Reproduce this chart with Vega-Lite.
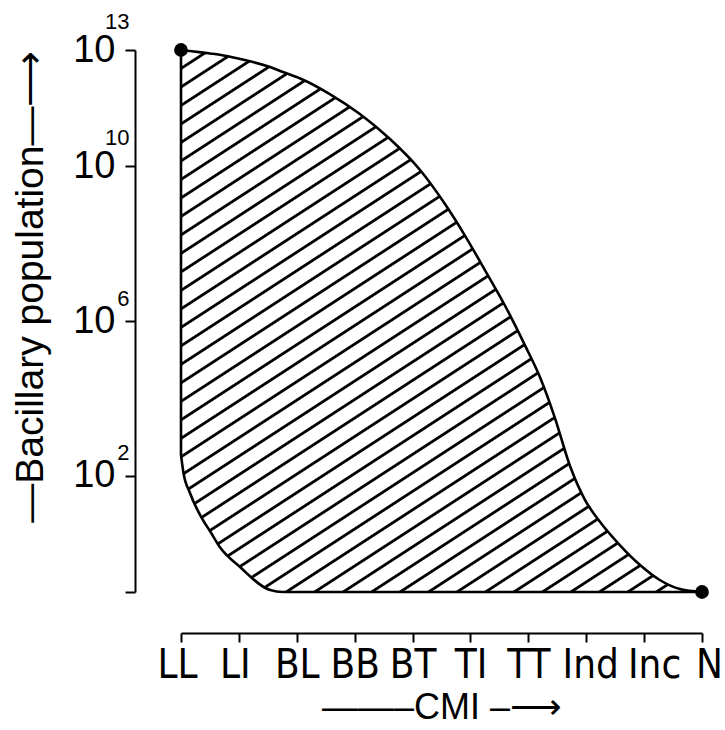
{
  "$schema": "https://vega.github.io/schema/vega-lite/v6.json",
  "width": 521,
  "height": 542,
  "autosize": "none",
  "padding": {"left": 181, "top": 50, "right": 22, "bottom": 138},
  "background": "white",
  "config": {
    "view": {"stroke": null},
    "axis": {"domainColor": "#000", "tickColor": "#000", "labelColor": "#000", "titleColor": "#000", "grid": false, "domainWidth": 2, "tickWidth": 2, "titleFontWeight": "normal"}
  },
  "resolve": {"axis": {"y": "independent"}},
  "encoding": {
    "x": {
      "field": "x", "type": "quantitative",
      "scale": {"domain": [0, 9], "nice": false, "zero": false},
      "axis": {
        "orient": "bottom", "offset": 41, "values": [0,1,2,3,4,5,6,7,8,9],
        "labelExpr": "['LL','LI','BL','BB','BT','TI','TT','Ind','Inc','N'][datum.value]",
        "labelOffset": {"condition": [{"test": "datum.value == 8", "value": 10}, {"test": "datum.value == 7", "value": 4}, {"test": "datum.value == 9", "value": 7}, {"test": "datum.value <= 1", "value": -4}], "value": 0},
        "tickSize": 9, "labelPadding": 3, "labelFontSize": 40,
        "labelFont": "Liberation Sans Narrow, DejaVu Sans Condensed, Liberation Sans",
        "labelOverlap": false, "labelFlush": false, "labelBound": false,
        "title": "——–CMI –⟶", "titleFont": "Liberation Sans", "titleFontSize": 36, "titlePadding": 5
      }
    }
  },
  "layer": [
    {
      "data": {"values": [
        {"x": 0, "hi": 1e13, "lo": 347},
        {"x": 0.04, "hi": 9.8e12, "lo": 126},
        {"x": 0.155, "hi": 9.4e12, "lo": 36},
        {"x": 0.38, "hi": 8.57e12, "lo": 7.2},
        {"x": 0.5, "hi": 8.13e12, "lo": 3.75},
        {"x": 0.67, "hi": 7.52e12, "lo": 1.45},
        {"x": 1.02, "hi": 5.86e12, "lo": 0.44},
        {"x": 1.54, "hi": 3.64e12, "lo": 0.112},
        {"x": 1.76, "hi": 2.7e12, "lo": 0.1},
        {"x": 2.06, "hi": 1.84e12, "lo": 0.1},
        {"x": 2.57, "hi": 7.29e11, "lo": 0.1},
        {"x": 3.09, "hi": 2.22e11, "lo": 0.1},
        {"x": 3.61, "hi": 5.02e10, "lo": 0.1},
        {"x": 4.13, "hi": 7.94e9, "lo": 0.1},
        {"x": 4.56, "hi": 1.05e9, "lo": 0.1},
        {"x": 4.9, "hi": 1.66e8, "lo": 0.1},
        {"x": 5.25, "hi": 2.07e7, "lo": 0.1},
        {"x": 5.6, "hi": 2.44e6, "lo": 0.1},
        {"x": 5.94, "hi": 2.39e5, "lo": 0.1},
        {"x": 6.2, "hi": 35700, "lo": 0.1},
        {"x": 6.46, "hi": 3110, "lo": 0.1},
        {"x": 6.72, "hi": 179, "lo": 0.1},
        {"x": 6.98, "hi": 23.7, "lo": 0.1},
        {"x": 7.24, "hi": 6.41, "lo": 0.1},
        {"x": 7.58, "hi": 1.63, "lo": 0.1},
        {"x": 7.93, "hi": 0.497, "lo": 0.1},
        {"x": 8.27, "hi": 0.204, "lo": 0.1},
        {"x": 8.62, "hi": 0.119, "lo": 0.1},
        {"x": 9, "hi": 0.1, "lo": 0.1}
      ]},
      "mark": {
        "type": "area", "interpolate": "monotone", "stroke": "#000", "strokeWidth": 2.6,
        "fill": {
          "gradient": "linear", "x1": 0, "y1": 0, "x2": 0.73, "y2": 1.169,
          "stops": [
            {"offset": 0, "color": "#fff"},
            {"offset": 0.0184, "color": "#fff"}, {"offset": 0.0198, "color": "#000"}, {"offset": 0.0222, "color": "#000"}, {"offset": 0.0236, "color": "#fff"},
            {"offset": 0.0394, "color": "#fff"}, {"offset": 0.0408, "color": "#000"}, {"offset": 0.0432, "color": "#000"}, {"offset": 0.0446, "color": "#fff"},
            {"offset": 0.0604, "color": "#fff"}, {"offset": 0.0618, "color": "#000"}, {"offset": 0.0642, "color": "#000"}, {"offset": 0.0656, "color": "#fff"},
            {"offset": 0.0814, "color": "#fff"}, {"offset": 0.0828, "color": "#000"}, {"offset": 0.0852, "color": "#000"}, {"offset": 0.0866, "color": "#fff"},
            {"offset": 0.1024, "color": "#fff"}, {"offset": 0.1038, "color": "#000"}, {"offset": 0.1062, "color": "#000"}, {"offset": 0.1076, "color": "#fff"},
            {"offset": 0.1234, "color": "#fff"}, {"offset": 0.1248, "color": "#000"}, {"offset": 0.1272, "color": "#000"}, {"offset": 0.1286, "color": "#fff"},
            {"offset": 0.1444, "color": "#fff"}, {"offset": 0.1458, "color": "#000"}, {"offset": 0.1482, "color": "#000"}, {"offset": 0.1496, "color": "#fff"},
            {"offset": 0.1654, "color": "#fff"}, {"offset": 0.1668, "color": "#000"}, {"offset": 0.1692, "color": "#000"}, {"offset": 0.1706, "color": "#fff"},
            {"offset": 0.1864, "color": "#fff"}, {"offset": 0.1878, "color": "#000"}, {"offset": 0.1902, "color": "#000"}, {"offset": 0.1916, "color": "#fff"},
            {"offset": 0.2074, "color": "#fff"}, {"offset": 0.2088, "color": "#000"}, {"offset": 0.2112, "color": "#000"}, {"offset": 0.2126, "color": "#fff"},
            {"offset": 0.2284, "color": "#fff"}, {"offset": 0.2298, "color": "#000"}, {"offset": 0.2322, "color": "#000"}, {"offset": 0.2336, "color": "#fff"},
            {"offset": 0.2494, "color": "#fff"}, {"offset": 0.2508, "color": "#000"}, {"offset": 0.2532, "color": "#000"}, {"offset": 0.2546, "color": "#fff"},
            {"offset": 0.2704, "color": "#fff"}, {"offset": 0.2718, "color": "#000"}, {"offset": 0.2742, "color": "#000"}, {"offset": 0.2756, "color": "#fff"},
            {"offset": 0.2914, "color": "#fff"}, {"offset": 0.2928, "color": "#000"}, {"offset": 0.2952, "color": "#000"}, {"offset": 0.2966, "color": "#fff"},
            {"offset": 0.3124, "color": "#fff"}, {"offset": 0.3138, "color": "#000"}, {"offset": 0.3162, "color": "#000"}, {"offset": 0.3176, "color": "#fff"},
            {"offset": 0.3334, "color": "#fff"}, {"offset": 0.3348, "color": "#000"}, {"offset": 0.3372, "color": "#000"}, {"offset": 0.3386, "color": "#fff"},
            {"offset": 0.3544, "color": "#fff"}, {"offset": 0.3558, "color": "#000"}, {"offset": 0.3582, "color": "#000"}, {"offset": 0.3596, "color": "#fff"},
            {"offset": 0.3754, "color": "#fff"}, {"offset": 0.3768, "color": "#000"}, {"offset": 0.3792, "color": "#000"}, {"offset": 0.3806, "color": "#fff"},
            {"offset": 0.3964, "color": "#fff"}, {"offset": 0.3978, "color": "#000"}, {"offset": 0.4002, "color": "#000"}, {"offset": 0.4016, "color": "#fff"},
            {"offset": 0.4174, "color": "#fff"}, {"offset": 0.4188, "color": "#000"}, {"offset": 0.4212, "color": "#000"}, {"offset": 0.4226, "color": "#fff"},
            {"offset": 0.4384, "color": "#fff"}, {"offset": 0.4398, "color": "#000"}, {"offset": 0.4422, "color": "#000"}, {"offset": 0.4436, "color": "#fff"},
            {"offset": 0.4594, "color": "#fff"}, {"offset": 0.4608, "color": "#000"}, {"offset": 0.4632, "color": "#000"}, {"offset": 0.4646, "color": "#fff"},
            {"offset": 0.4804, "color": "#fff"}, {"offset": 0.4818, "color": "#000"}, {"offset": 0.4842, "color": "#000"}, {"offset": 0.4856, "color": "#fff"},
            {"offset": 0.5014, "color": "#fff"}, {"offset": 0.5028, "color": "#000"}, {"offset": 0.5052, "color": "#000"}, {"offset": 0.5066, "color": "#fff"},
            {"offset": 0.5224, "color": "#fff"}, {"offset": 0.5238, "color": "#000"}, {"offset": 0.5262, "color": "#000"}, {"offset": 0.5276, "color": "#fff"},
            {"offset": 0.5434, "color": "#fff"}, {"offset": 0.5448, "color": "#000"}, {"offset": 0.5472, "color": "#000"}, {"offset": 0.5486, "color": "#fff"},
            {"offset": 0.5644, "color": "#fff"}, {"offset": 0.5658, "color": "#000"}, {"offset": 0.5682, "color": "#000"}, {"offset": 0.5696, "color": "#fff"},
            {"offset": 0.5854, "color": "#fff"}, {"offset": 0.5868, "color": "#000"}, {"offset": 0.5892, "color": "#000"}, {"offset": 0.5906, "color": "#fff"},
            {"offset": 0.6064, "color": "#fff"}, {"offset": 0.6078, "color": "#000"}, {"offset": 0.6102, "color": "#000"}, {"offset": 0.6116, "color": "#fff"},
            {"offset": 0.6274, "color": "#fff"}, {"offset": 0.6288, "color": "#000"}, {"offset": 0.6312, "color": "#000"}, {"offset": 0.6326, "color": "#fff"},
            {"offset": 0.6484, "color": "#fff"}, {"offset": 0.6498, "color": "#000"}, {"offset": 0.6522, "color": "#000"}, {"offset": 0.6536, "color": "#fff"},
            {"offset": 0.6694, "color": "#fff"}, {"offset": 0.6708, "color": "#000"}, {"offset": 0.6732, "color": "#000"}, {"offset": 0.6746, "color": "#fff"},
            {"offset": 0.6904, "color": "#fff"}, {"offset": 0.6918, "color": "#000"}, {"offset": 0.6942, "color": "#000"}, {"offset": 0.6956, "color": "#fff"},
            {"offset": 0.7114, "color": "#fff"}, {"offset": 0.7128, "color": "#000"}, {"offset": 0.7152, "color": "#000"}, {"offset": 0.7166, "color": "#fff"},
            {"offset": 0.7324, "color": "#fff"}, {"offset": 0.7338, "color": "#000"}, {"offset": 0.7362, "color": "#000"}, {"offset": 0.7376, "color": "#fff"},
            {"offset": 0.7534, "color": "#fff"}, {"offset": 0.7548, "color": "#000"}, {"offset": 0.7572, "color": "#000"}, {"offset": 0.7586, "color": "#fff"},
            {"offset": 0.7744, "color": "#fff"}, {"offset": 0.7758, "color": "#000"}, {"offset": 0.7782, "color": "#000"}, {"offset": 0.7796, "color": "#fff"},
            {"offset": 0.7954, "color": "#fff"}, {"offset": 0.7968, "color": "#000"}, {"offset": 0.7992, "color": "#000"}, {"offset": 0.8006, "color": "#fff"},
            {"offset": 0.8164, "color": "#fff"}, {"offset": 0.8178, "color": "#000"}, {"offset": 0.8202, "color": "#000"}, {"offset": 0.8216, "color": "#fff"},
            {"offset": 0.8374, "color": "#fff"}, {"offset": 0.8388, "color": "#000"}, {"offset": 0.8412, "color": "#000"}, {"offset": 0.8426, "color": "#fff"},
            {"offset": 0.8584, "color": "#fff"}, {"offset": 0.8598, "color": "#000"}, {"offset": 0.8622, "color": "#000"}, {"offset": 0.8636, "color": "#fff"},
            {"offset": 0.8794, "color": "#fff"}, {"offset": 0.8808, "color": "#000"}, {"offset": 0.8832, "color": "#000"}, {"offset": 0.8846, "color": "#fff"},
            {"offset": 0.9004, "color": "#fff"}, {"offset": 0.9018, "color": "#000"}, {"offset": 0.9042, "color": "#000"}, {"offset": 0.9056, "color": "#fff"},
            {"offset": 0.9214, "color": "#fff"}, {"offset": 0.9228, "color": "#000"}, {"offset": 0.9252, "color": "#000"}, {"offset": 0.9266, "color": "#fff"},
            {"offset": 0.9424, "color": "#fff"}, {"offset": 0.9438, "color": "#000"}, {"offset": 0.9462, "color": "#000"}, {"offset": 0.9476, "color": "#fff"},
            {"offset": 0.9634, "color": "#fff"}, {"offset": 0.9648, "color": "#000"}, {"offset": 0.9672, "color": "#000"}, {"offset": 0.9686, "color": "#fff"},
            {"offset": 0.9844, "color": "#fff"}, {"offset": 0.9858, "color": "#000"}, {"offset": 0.9882, "color": "#000"}, {"offset": 0.9896, "color": "#fff"},
            {"offset": 1, "color": "#fff"}
          ]
        }
      },
      "encoding": {
        "y": {
          "field": "hi", "type": "quantitative",
          "scale": {"type": "log", "domain": [0.1, 1e13], "nice": false},
          "axis": {
            "orient": "left", "offset": 46,
            "values": [0.1, 100, 1000000, 10000000000, 10000000000000],
            "labelExpr": "datum.value < 1 ? '' : '10'",
            "tickSize": 10, "labelPadding": 10, "labelFontSize": 38, "labelFont": "Liberation Sans",
            "labelOverlap": false, "labelBound": false, "labelFlush": false,
            "title": "—Bacillary population—⟶", "titleFont": "Liberation Sans", "titleFontSize": 39,
            "titleAnchor": "end", "titlePadding": 22
          }
        },
        "y2": {"field": "lo"}
      }
    },
    {
      "data": {"values": [{"x": 0, "y": 1e13}, {"x": 9, "y": 0.1}]},
      "mark": {"type": "point", "filled": true, "color": "#000", "size": 190, "opacity": 1},
      "encoding": {
        "y": {
          "field": "y", "type": "quantitative",
          "scale": {"type": "log", "domain": [0.1, 1e13], "nice": false},
          "axis": {
            "orient": "left", "offset": 46,
            "values": [100, 1000000, 10000000000, 10000000000000],
            "labelExpr": "format(log(datum.value) / LN10, '.0f')",
            "domain": false, "ticks": false, "tickSize": 0, "labelPadding": 6,
            "labelFontSize": 22, "labelFont": "Liberation Sans",
            "labelOffset": {"condition": {"test": "datum.value > 1e9", "value": -29}, "value": -23},
            "labelOverlap": false, "labelBound": false, "labelFlush": false,
            "title": null
          }
        }
      }
    }
  ]
}
